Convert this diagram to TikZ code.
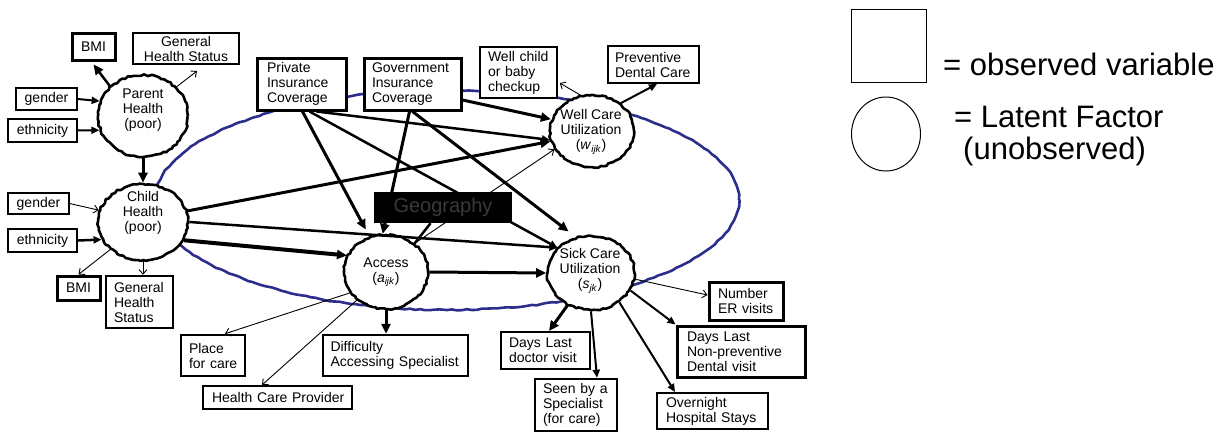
\documentclass[tikz,border=0pt]{standalone}
\usepackage{fontspec}
\setmainfont{Liberation Sans}
\usetikzlibrary{arrows.meta,shapes.geometric,decorations.pathmorphing,calc}
\pgfdeclarelayer{bg}
\pgfdeclarelayer{top}
\pgfsetlayers{bg,main,top}
\definecolor{ringblue}{RGB}{44,46,140}
\definecolor{geotext}{RGB}{58,58,58}
\newcommand\dfont{\fontsize{14pt}{15pt}\selectfont}
\newcommand\lfont{\fontsize{31pt}{36pt}\selectfont}
\tikzset{
  obs/.style={rectangle, draw, fill=white, font=\dfont, inner ysep=0pt, inner xsep=0pt, align=center},
  obsl/.style={obs, align=left, inner xsep=#1},
  lat/.style={ellipse, draw, fill=white, line width=2.6pt, inner sep=0pt, line join=round,
    decorate, decoration={random steps, segment length=3pt, amplitude=1pt}},
  lattext/.style={font=\dfont, align=center, inner sep=0pt},
  thk/.style={line width=3pt, -{Triangle[length=10pt,width=9pt]}},
  med/.style={line width=2pt, -{Triangle[length=8pt,width=7pt]}},
  thn/.style={line width=0.9pt, -{Straight Barb[length=4.5pt,width=8pt]}},
}
\begin{document}
\begin{tikzpicture}[x=1pt, y=-1pt]
\pgfmathsetseed{3}
\useasboundingbox (0,0) rectangle (1231,431);

% latent factors
\node[lat, minimum width=90pt, minimum height=82pt] (parent) at (143,116) {};
\node[lattext] (parentT) at (143,110) {Parent\\Health\\(poor)};
\node[lat, minimum width=90pt, minimum height=76pt] (child) at (143,222) {};
\node[lattext] (childT) at (143,213) {Child\\Health\\(poor)};
\node[lat, minimum width=84pt, minimum height=72pt] (well) at (592,131) {};
\node[lattext] (wellT) at (591,132) {Well Care\\Utilization\\(\textit{w}\textsubscript{\textit{ijk}})};
\node[lat, minimum width=84pt, minimum height=74pt] (access) at (386,272) {};
\node[lattext] (accessT) at (386,272) {Access\\(\textit{a}\textsubscript{\textit{ijk}})};
\node[lat, minimum width=87pt, minimum height=74pt] (sick) at (591,273) {};
\node[lattext] (sickT) at (590,271) {Sick Care\\Utilization\\(\textit{s}\textsubscript{\textit{jk}})};

% observed variables
\node[obs, line width=3pt, minimum width=43pt, minimum height=27pt] (bmiA) at (93.5,46.5) {BMI};
\node[obs, line width=2pt, minimum width=106pt, minimum height=31pt] (ghsA) at (186,48.5) {General\\Health~Status};
\node[obs, line width=1.5pt, minimum width=61pt, minimum height=22pt] (genA) at (46.5,99) {gender};
\node[obs, line width=1.5pt, minimum width=69pt, minimum height=23pt] (ethA) at (42.5,130.5) {ethnicity};
\node[obs, line width=1.2pt, minimum width=61pt, minimum height=21pt] (genB) at (38.5,203.5) {gender};
\node[obs, line width=1.8pt, minimum width=69pt, minimum height=23pt] (ethB) at (42.5,240.5) {ethnicity};
\node[obs, line width=3pt, minimum width=43pt, minimum height=24pt] (bmiB) at (78.5,288) {BMI};
\node[obsl=8pt, line width=2.5pt, text width=51pt, minimum height=52pt] (ghsB) at (139.5,302) {General\\Health\\Status};
\node[obsl=10pt, line width=3pt, text width=69pt, minimum height=52pt] (priv) at (301.5,84) {Private\\Insurance\\Coverage};
\node[obsl=8pt, line width=3pt, text width=81pt, minimum height=52pt] (gov) at (412.5,84) {Government\\Insurance\\Coverage};
\node[obsl=8pt, line width=1.5pt, text width=61pt, minimum height=51pt] (wcb) at (518.5,72.5) {Well~child\\or~baby\\checkup};
\node[obsl=7pt, line width=2pt, text width=77pt, minimum height=37pt] (pdc) at (653.5,64.5) {Preventive\\Dental~Care};
\node[obsl=8pt, line width=2.5pt, text width=48pt, minimum height=41pt] (place) at (213,355.5) {Place\\for~care};
\node[obsl=7.5pt, line width=2.5pt, text width=130pt, minimum height=41pt] (diff) at (395.5,355.5) {Difficulty\\Accessing~Specialist};
\node[obsl=9pt, line width=2pt, text width=131pt, minimum height=23pt] (hcp) at (277.5,397.5) {Health~Care~Provider};
\node[obsl=8pt, line width=2pt, text width=73pt, minimum height=37pt] (dld) at (545.5,350.5) {Days~Last\\doctor~visit};
\node[obsl=8pt, line width=2.5pt, text width=66pt, minimum height=52pt] (seen) at (576,405) {Seen~by~a\\Specialist\\(for~care)};
\node[obsl=9pt, line width=3pt, text width=56pt, minimum height=38pt] (ner) at (746,301) {Number\\ER~visits};
\node[obsl=10pt, line width=3pt, text width=108pt, minimum height=51pt] (dnp) at (741,351.5) {Days~Last\\Non-preventive\\Dental~visit};
\node[obsl=9pt, line width=2pt, text width=93pt, minimum height=36pt] (ovn) at (712.5,411) {Overnight\\Hospital~Stays};

% geography box sits above the paths crossing it
\begin{pgfonlayer}{top}
\node[fill=black, minimum width=138pt, minimum height=31pt, inner sep=0pt, text=geotext,
  font=\fontsize{20pt}{22pt}\selectfont] (geo) at (443,207.5) {Geography};
\end{pgfonlayer}

% hand-drawn ring behind the model
\begin{pgfonlayer}{bg}
\draw[ringblue, line width=2.6pt, decorate, decoration={random steps, segment length=5pt, amplitude=0.6pt}]
  (447,200) ellipse [x radius=292pt, y radius=110pt];
\end{pgfonlayer}

% parent health
\draw[thk, line width=2.5pt] (parent.138) -- ([yshift=-3pt]bmiA.south);
\draw[thn] (parent.41) -- ([xshift=11pt,yshift=-6pt]ghsA.south);
\draw[med] (genA.east) -- (parent.161);
\draw[med] (ethA.east) -- (parent.198);
\draw[thk] (parent.south) -- (child.north);

% child health
\draw[thn] (genB.east) -- (child.165);
\draw[med, line width=2.5pt] (ethB.east) -- (child.203);
\draw[thn] (child.220) -- (bmiB.north);
\draw[thn] (child.south) -- (child.south |- ghsB.north);
\draw[thk] (child.14) -- (well.194);
\draw[med, line width=2.5pt] (child.0) -- (sick.143);
\draw[thk, line width=4pt] (child.336) -- (access.157);

% insurance
\draw[thk, shorten >=8pt] ([xshift=1pt]priv.south) -- (access.115);
\draw[med, line width=2.5pt] ([xshift=15pt]priv.south) -- (well.192);
\draw[med, line width=2.5pt] ([xshift=8pt]priv.south) -- (sick.143);
\draw[thk] ([yshift=-16pt]gov.east) -- (well.164);
\draw[thk, shorten >=9pt] (gov.south) -- (sick.113);
\draw[thk] ([xshift=-3pt]gov.south) -- (access.95);

% access
\draw[line width=2.5pt] (access.45) -- (geo);
\draw[thn] (access.45) -- (well.206);
\draw[thk] (access.east) -- (sick.west);
\draw[thn] (access.210) -- ([xshift=12pt]place.north);
\draw[thn] (access.224) -- ([xshift=-15.5pt]hcp.north);
\draw[thk] (access.south) -- (access.south |- diff.north);

% well care
\draw[thn] (well.108) -- ([xshift=2pt,yshift=-10.5pt]wcb.east);
\draw[med] (well.44) -- ([xshift=3.5pt]pdc.south);

% sick care
\draw[thn] (sick.352) -- ([yshift=6pt]ner.west);
\draw[med] (sick.336) -- (dnp.north west);
\draw[med] (sick.314) -- ([xshift=-37.5pt]ovn.north);
\draw[med] (sick.south) -- ([xshift=21pt]seen.north);
\draw[thk] (sick.234) -- ([xshift=3.5pt]dld.north);

% legend
\node[draw, line width=1pt, minimum width=75pt, minimum height=73pt, inner sep=0pt] (legsq) at (888.5,45.5) {};
\node[draw, ellipse, line width=1pt, minimum width=69pt, minimum height=74pt, inner sep=0pt] (legci) at (886,134) {};
\node[anchor=base west, font=\lfont, inner sep=0pt] (legobs) at (943,75) {= observed variable};
\node[anchor=base west, font=\lfont, inner sep=0pt] (leglat) at (954,127) {= Latent Factor};
\node[anchor=base west, font=\lfont, inner sep=0pt] (legun) at (963,159) {(unobserved)};
\end{tikzpicture}
\end{document}
